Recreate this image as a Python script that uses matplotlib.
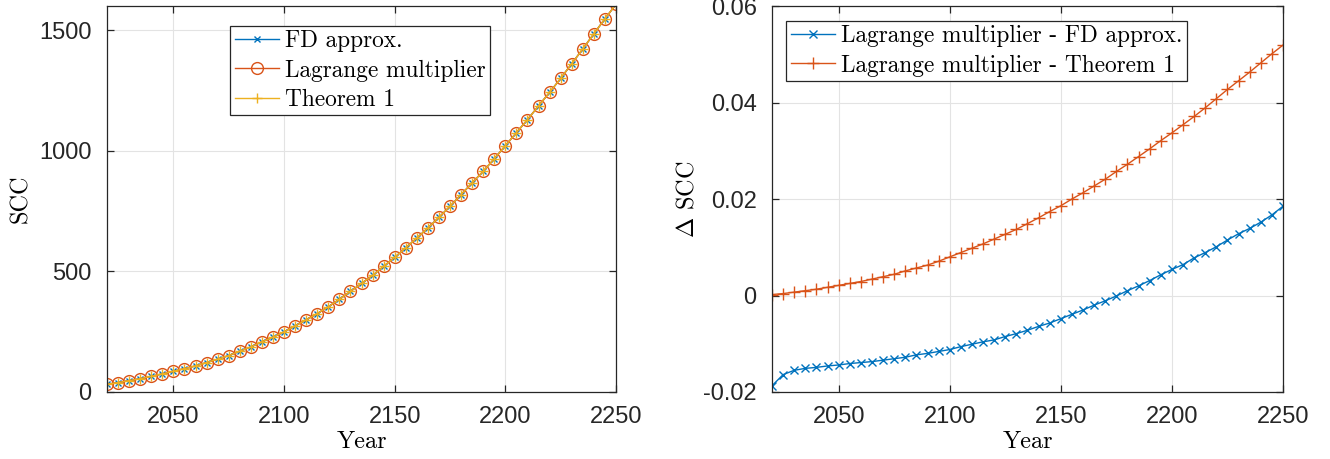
import matplotlib
matplotlib.use("Agg")
import matplotlib.pyplot as plt

years = list(range(2020, 2251, 5))

scc_fd = [32, 39, 47, 55, 65, 75, 86, 97, 108, 122, 136, 151, 169, 187, 208, 227,
          249, 274, 299, 325, 353, 384, 417, 450, 483, 521, 558, 598, 638, 680, 724,
          770, 818, 867, 915, 967, 1021, 1075, 1129, 1186, 1242, 1300, 1361, 1422,
          1485, 1547, 1607]
scc_lm = scc_fd
scc_th = scc_fd

diff_fd = [-0.0187, -0.0164, -0.0155, -0.0151, -0.0149, -0.0146, -0.0144, -0.0141,
           -0.0139, -0.0137, -0.0134, -0.0131, -0.0128, -0.0123, -0.0120, -0.0116,
           -0.0112, -0.0106, -0.0101, -0.0096, -0.0092, -0.0085, -0.0079, -0.0072,
           -0.0064, -0.0057, -0.0048, -0.0039, -0.0030, -0.0020, -0.0011, -0.0001,
           0.0010, 0.0020, 0.0031, 0.0043, 0.0054, 0.0064, 0.0078, 0.0089, 0.0101,
           0.0115, 0.0128, 0.0139, 0.0152, 0.0167, 0.0185]
diff_th = [0.0002, 0.0004, 0.0007, 0.0010, 0.0013, 0.0017, 0.0021, 0.0025, 0.0029,
           0.0034, 0.0039, 0.0044, 0.0051, 0.0057, 0.0063, 0.0071, 0.0080, 0.0089,
           0.0098, 0.0107, 0.0117, 0.0127, 0.0137, 0.0149, 0.0161, 0.0174, 0.0186,
           0.0200, 0.0213, 0.0227, 0.0241, 0.0257, 0.0272, 0.0288, 0.0304, 0.0321,
           0.0337, 0.0354, 0.0371, 0.0389, 0.0408, 0.0427, 0.0445, 0.0463, 0.0482,
           0.0501, 0.0519]

left_labels = ["FD approx.", "Lagrange multiplier", "Theorem 1"]
right_labels = ["Lagrange multiplier - FD approx.", "Lagrange multiplier - Theorem 1"]
xticks = [2050, 2100, 2150, 2200, 2250]
left_yticks = [0, 500, 1000, 1500]
right_yticks = [-0.02, 0, 0.02, 0.04, 0.06]
right_yticklabels = ["-0.02", "0", "0.02", "0.04", "0.06"]

C_BLUE = "#0072BD"
C_ORANGE = "#D95319"
C_YELLOW = "#EDB120"

plt.rcParams["mathtext.fontset"] = "cm"
plt.rcParams["axes.unicode_minus"] = False
tick_font = "Liberation Sans"
serif = "cmr10"

fig = plt.figure(figsize=(13.3, 4.59), dpi=100)
axL = fig.add_axes([107/1330, 1-392/459, (616-107)/1330, 386/459])
axR = fig.add_axes([772/1330, 1-392/459, (1283-772)/1330, 386/459])

def style(ax):
    ax.grid(True, color="#e3e3e3", linewidth=0.8)
    ax.set_axisbelow(True)
    for s in ax.spines.values():
        s.set_color("#262626")
        s.set_linewidth(0.9)
    ax.tick_params(direction="in", top=True, right=True, length=5, width=0.9,
                   color="#262626", labelsize=17, labelcolor="#262626")
    ax.tick_params(axis="x", pad=10)
    ax.tick_params(axis="y", pad=11)
    for lab in ax.get_xticklabels() + ax.get_yticklabels():
        lab.set_fontfamily(tick_font)

def add_legend(ax, anchor):
    leg = ax.legend(loc="upper left", bbox_to_anchor=anchor, borderaxespad=0,
                    prop={"family": serif, "size": 16.8}, frameon=True, fancybox=False,
                    edgecolor="#262626", framealpha=1, handlelength=1.9,
                    handletextpad=0.25, labelspacing=0.3, borderpad=0.2)
    leg.get_frame().set_linewidth(0.9)
    return leg

lw = 1.0
axL.plot(years, scc_fd, color=C_BLUE, marker="x", ms=5, mew=1.0, lw=lw, label=left_labels[0])
axL.plot(years, scc_lm, color=C_ORANGE, marker="o", ms=8.5, mfc="none", mew=1.0, lw=lw, label=left_labels[1])
axL.plot(years, scc_th, color=C_YELLOW, marker="+", ms=7, mew=1.0, lw=lw, label=left_labels[2])
axL.set_xlim(2020, 2250)
axL.set_ylim(0, 1600)
axL.set_xticks(xticks)
axL.set_yticks(left_yticks)
style(axL)
axL.set_xlabel("Year", fontfamily=serif, fontsize=17.5, labelpad=2)
axL.set_ylabel("SCC", fontfamily=serif, fontsize=17.5, labelpad=5)
add_legend(axL, (0.2417, 0.949))

axR.plot(years, diff_fd, color=C_BLUE, marker="x", ms=6, mew=1.0, lw=lw, label=right_labels[0])
axR.plot(years, diff_th, color=C_ORANGE, marker="+", ms=8, mew=1.0, lw=lw, label=right_labels[1])
axR.set_xlim(2020, 2250)
axR.set_ylim(-0.02, 0.06)
axR.set_xticks(xticks)
axR.set_yticks(right_yticks)
axR.set_yticklabels(right_yticklabels)
style(axR)
axR.set_xlabel("Year", fontfamily=serif, fontsize=17.5, labelpad=2)
axR.set_ylabel(r"$\Delta$ SCC", fontfamily=serif, fontsize=17.5, labelpad=3)
add_legend(axR, (0.0274, 0.962))

fig.savefig("out.png", dpi=100)
